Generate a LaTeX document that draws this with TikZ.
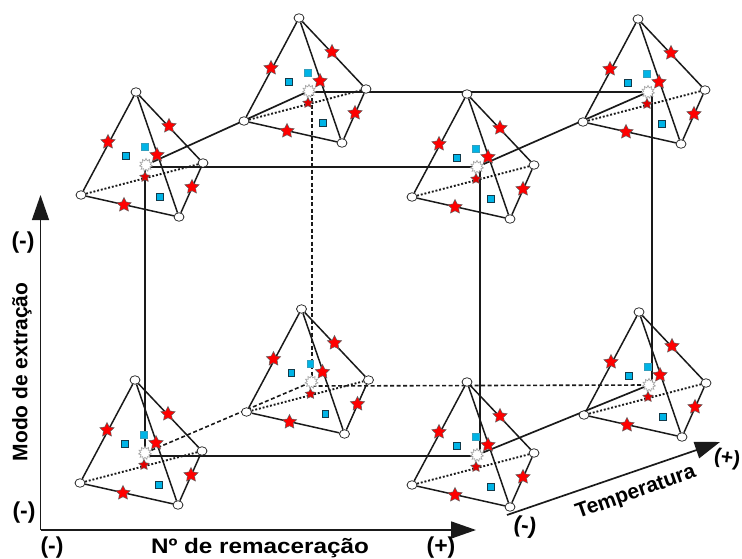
\documentclass[tikz,border=0pt]{standalone}
\usepackage{fontspec}
\setmainfont{Liberation Sans}
\usetikzlibrary{shapes.geometric,arrows.meta,backgrounds}
\definecolor{edgeink}{HTML}{1A1A1A}
\definecolor{sqfill}{HTML}{00B4E6}
\definecolor{sqink}{HTML}{123A4A}
\tikzset{
  vert/.style={ellipse,draw=edgeink,fill=white,line width=0.7pt,inner sep=0pt,minimum width=10pt,minimum height=8.5pt},
  hub/.style={star,star points=11,star point ratio=1.5,draw=gray!70,fill=white,line width=0.7pt,inner sep=0pt,minimum size=13pt},
  bigstar/.style={star,star points=5,star point ratio=2.0,draw=edgeink!70,fill=red,line width=0.5pt,inner sep=0pt,minimum size=15pt},
  smallstar/.style={star,star points=5,star point ratio=2.0,draw=edgeink!70,fill=red!90!black,line width=0.5pt,inner sep=0pt,minimum size=11pt},
  sq/.style={rectangle,draw=sqink,fill=sqfill,line width=1pt,inner sep=0pt,minimum size=6.5pt},
  sqlight/.style={rectangle,draw=sqfill!60!gray,fill=sqfill,line width=0.7pt,inner sep=0pt,minimum size=6.5pt},
  edgeline/.style={draw=edgeink,line width=1.5pt},
  dotline/.style={draw=edgeink,line width=1.9pt,dash pattern=on 1.9pt off 1.9pt},
  cubeline/.style={draw=edgeink,line width=1.7pt},
  cubedash/.style={draw=edgeink,line width=1.6pt,dash pattern=on 4pt off 2.5pt},
  axisline/.style={draw=edgeink,line width=1.7pt,-{Triangle[length=25pt,width=17pt]}},
  lab/.style={font=\bfseries\fontsize{21}{21}\selectfont,text=black,inner sep=0pt},
  paren/.style={font=\bfseries\fontsize{23}{23}\selectfont,text=black,inner sep=0pt}
}
\newcommand{\tetra}[3]{%
  \begin{scope}[shift={(#2,#3)}]
    \node[vert] (a#1) at (136,92) {};
    \node[vert] (l#1) at (81,195) {};
    \node[vert] (b#1) at (179,217) {};
    \node[vert] (r#1) at (203,163) {};
    \node[hub]  (c#1) at (146,165) {};
    \node[bigstar] (sa#1) at (108,142) {};
    \node[bigstar] (sb#1) at (169,126) {};
    \node[bigstar] (sc#1) at (157,155) {};
    \node[smallstar] (sd#1) at (145,177) {};
    \node[bigstar] (se#1) at (192,187) {};
    \node[bigstar] (sf#1) at (124,205) {};
    \node[sqlight] (qa#1) at (145,147) {};
    \node[sq] (qb#1) at (126,156) {};
    \node[sq] (qc#1) at (160,197) {};
  \end{scope}
  \begin{pgfonlayer}{background}
    \draw[edgeline] (a#1) -- (l#1);
    \draw[edgeline] (a#1) -- (b#1);
    \draw[edgeline] (a#1) -- (r#1);
    \draw[edgeline] (l#1) -- (b#1);
    \draw[edgeline] (b#1) -- (r#1);
    \draw[dotline] (l#1) -- (r#1);
  \end{pgfonlayer}%
}
\begin{document}
\begin{tikzpicture}[x=1pt,y=-1pt]
\useasboundingbox (0,0) rectangle (742,559);
\tetra{1}{0}{0}
\tetra{2}{163}{-74}
\tetra{3}{331}{2}
\tetra{4}{502}{-73}
\tetra{5}{165.5}{217}
\tetra{6}{503}{220}
\tetra{7}{331}{290}
\tetra{8}{-1}{288}
\coordinate (k1) at (145,167);
\coordinate (k2) at (312,92);
\coordinate (k3) at (480,167);
\coordinate (k4) at (652,92);
\coordinate (k5) at (312,386);
\coordinate (k6) at (652,386);
\coordinate (k7) at (480,456);
\coordinate (k8) at (145,456);
\begin{pgfonlayer}{background}
  \draw[cubeline] (k1) -- (c3.center |- k1);
  \draw[cubeline] (c2.center |- k2) -- (c4);
  \draw[cubeline] (k8) -- (c7.center |- k8);
  \draw[cubedash] (k5) -- (c6);
  \draw[cubeline] (k1) -- (c8.center -| k1);
  \draw[cubeline] (k3) -- (k7 |- c7);
  \draw[cubedash] (k2) -- (k5 |- c5);
  \draw[cubeline] (k4) -- (k6 |- c6);
  \draw[cubeline] (c1) -- (c2);
  \draw[cubeline] (c3) -- (c4);
  \draw[cubedash] (c8) -- (c5);
  \draw[cubeline] (c7) -- (c6);
\end{pgfonlayer}
\coordinate (o) at (40.5,530);
\coordinate (yend) at (40.5,195);
\coordinate (xend) at (476,530);
\coordinate (zstart) at (507,515);
\coordinate (zend) at (720,442);
\draw[axisline,line width=1.3pt] (o) -- (yend);
\draw[axisline] (o) -- (xend);
\draw[axisline] (zstart) -- (zend);
\node[paren] (ym) at (23,243) {(-)};
\node[lab,rotate=90] (yl) at (22,372) {Modo de extração};
\node[paren] (om) at (24,513) {(-)};
\node[paren] (xm) at (52,548) {(-)};
\node[lab,xscale=1.155] (xl) at (260,548) {Nº de remaceração};
\node[paren] (xp) at (441,548) {(+)};
\node[paren,rotate=-8] (zm) at (525,527) {(-)};
\node[lab,rotate=19.5] (zl) at (636,493) {Temperatura};
\node[paren,rotate=-8,font=\bfseries\fontsize{21}{21}\selectfont] (zp) at (727,459) {(+)};
\end{tikzpicture}
\end{document}
